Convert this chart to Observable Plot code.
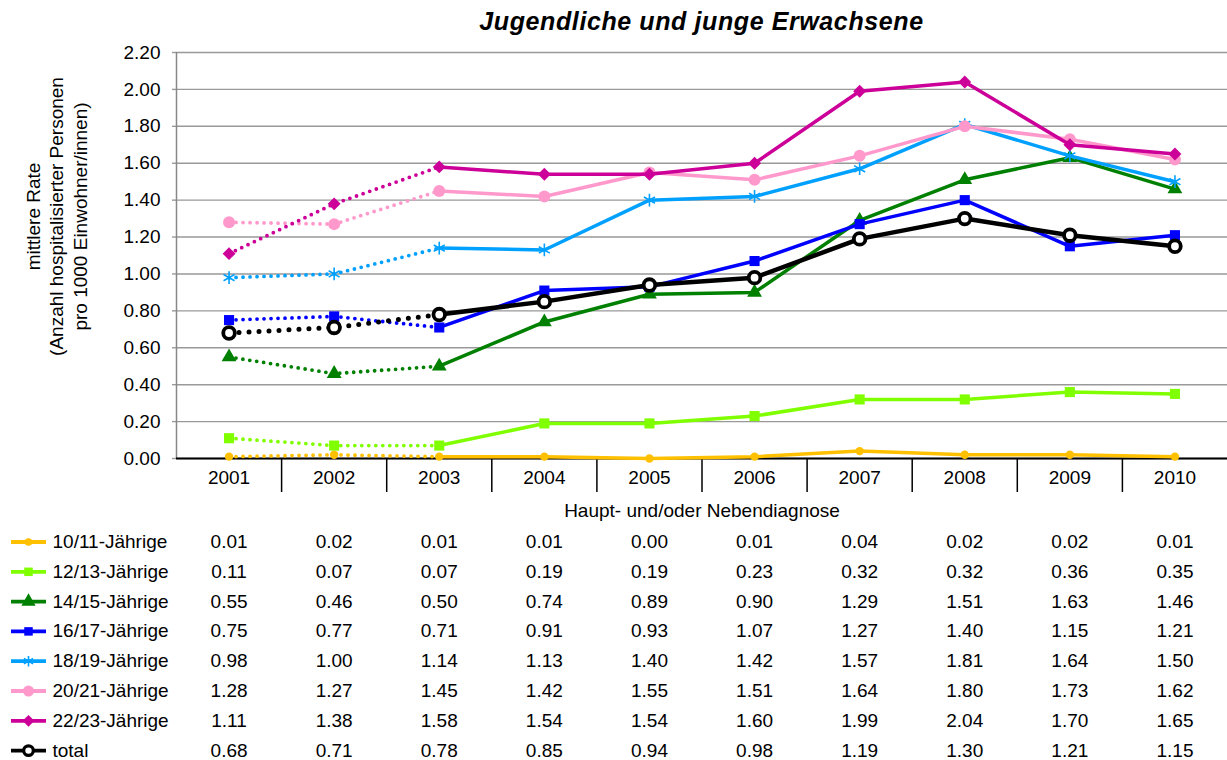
<!DOCTYPE html>
<html>
<head>
<meta charset="utf-8">
<script src="https://cdn.jsdelivr.net/npm/d3@7"></script>
<script src="https://cdn.jsdelivr.net/npm/@observablehq/plot@0.6"></script>
<style>
  html, body { margin: 0; padding: 0; background: #fff; }
  #wrap { position: relative; width: 1227px; height: 760px; overflow: hidden; font-family: "Liberation Sans", Arial, sans-serif; }
  #title { position: absolute; left: 176px; top: 0; width: 1051px; height: 40px; line-height: 42px; text-align: center;
           font-weight: bold; font-style: italic; font-size: 25px; letter-spacing: 0.6px; color: #000; }
  #chart { position: absolute; left: 0; top: 40px; }
</style>
</head>
<body>
<div id="wrap">
  <div id="title">Jugendliche und junge Erwachsene</div>
  <div id="chart"></div>
</div>
<script>
// ---- data ----
const years = [2001, 2002, 2003, 2004, 2005, 2006, 2007, 2008, 2009, 2010];
const seriesNames = ["10/11-Jährige", "12/13-Jährige", "14/15-Jährige", "16/17-Jährige",
                     "18/19-Jährige", "20/21-Jährige", "22/23-Jährige", "total"];
const v1011 = [0.01, 0.02, 0.01, 0.01, 0.00, 0.01, 0.04, 0.02, 0.02, 0.01];
const v1213 = [0.11, 0.07, 0.07, 0.19, 0.19, 0.23, 0.32, 0.32, 0.36, 0.35];
const v1415 = [0.55, 0.46, 0.50, 0.74, 0.89, 0.90, 1.29, 1.51, 1.63, 1.46];
const v1617 = [0.75, 0.77, 0.71, 0.91, 0.93, 1.07, 1.27, 1.40, 1.15, 1.21];
const v1819 = [0.98, 1.00, 1.14, 1.13, 1.40, 1.42, 1.57, 1.81, 1.64, 1.50];
const v2021 = [1.28, 1.27, 1.45, 1.42, 1.55, 1.51, 1.64, 1.80, 1.73, 1.62];
const v2223 = [1.11, 1.38, 1.58, 1.54, 1.54, 1.60, 1.99, 2.04, 1.70, 1.65];
const vTotal = [0.68, 0.71, 0.78, 0.85, 0.94, 0.98, 1.19, 1.30, 1.21, 1.15];
const yTicks = [0, 0.2, 0.4, 0.6, 0.8, 1.0, 1.2, 1.4, 1.6, 1.8, 2.0, 2.2];
const dottedUntil = 2003;
const yAxisLabel = "mittlere Rate\n(Anzahl hospitalisierter Personen\npro 1000 Einwohner/innen)";
const xAxisLabel = "Haupt- und/oder Nebendiagnose";

// ---- styles ----
const seriesValues = [v1011, v1213, v1415, v1617, v1819, v2021, v2223, vTotal];
const styles = [
  {color: "#FFC000", symbol: "circle",   r: 4.2, lr: 3.8, width: 3.5},
  {color: "#80FF00", symbol: "square",   r: 5.7, lr: 4.8, width: 3.5},
  {color: "#008000", symbol: "triangle", r: 5.5, lr: 5.3, width: 3.5},
  {color: "#0000FF", symbol: "square",   r: 5.7, lr: 4.8, width: 3.5},
  {color: "#00A0FF", symbol: "asterisk", r: 6,   lr: 5,   width: 3.5, hollow: true},
  {color: "#FF99CC", symbol: "circle",   r: 6,   lr: 5.5, width: 3.5},
  {color: "#CC0099", symbol: "diamond2", r: 5.8, lr: 5.3, width: 3.5},
  {color: "#000000", symbol: "circle",   r: 5.8, lr: 4.8, width: 4.5, open: true}
];

const rowsBySeries = seriesNames.map((name, i) =>
  years.map((year, j) => ({series: name, year, value: seriesValues[i][j]})));

const boundaries = years.slice(1).map(y => y - 0.5);
const hline = {draw(context) { context.moveTo(-17.5, 0); context.lineTo(17.5, 0); }};
const rowDy = i => 83.5 + i * 29.8;

const marks = [
  Plot.gridY(yTicks, {stroke: "#999", strokeOpacity: 1, strokeWidth: 1.4}),
  Plot.axisY(yTicks, {tickSize: 4, tickPadding: 12, tickFormat: d => d.toFixed(2), label: null, stroke: "#999", strokeWidth: 1.4}),
  Plot.ruleX([2000.5], {stroke: "#888", strokeWidth: 1.5}),
  Plot.axisX(years, {tickSize: 0, tickPadding: 12, tickFormat: d => String(d), label: null}),
  Plot.axisX(boundaries, {tickSize: 34, tickFormat: () => "", label: null, stroke: "#000", strokeWidth: 1.5}),
  Plot.ruleY([0], {stroke: "#000", strokeWidth: 2}),
  Plot.text([yAxisLabel], {frameAnchor: "left", textAnchor: "middle", lineAnchor: "middle", dx: -120.5, dy: -39,
    rotate: -90, lineHeight: 1.22, text: d => d}),
  Plot.text([xAxisLabel], {frameAnchor: "bottom", lineAnchor: "middle", dy: 52, text: d => d})
];

rowsBySeries.forEach((rows, i) => {
  const s = styles[i];
  const isTotal = s.open;
  marks.push(Plot.line(rows.filter(d => d.year <= dottedUntil), {
    x: "year", y: "value", stroke: s.color, strokeWidth: isTotal ? 5 : 3.8,
    strokeDasharray: isTotal ? "0 10" : "0 7", strokeLinecap: "round"
  }));
  marks.push(Plot.line(rows.filter(d => d.year >= dottedUntil), {
    x: "year", y: "value", stroke: s.color, strokeWidth: s.width
  }));
  const dotOpts = s.open
    ? {fill: "#fff", stroke: s.color, strokeWidth: 3.8}
    : s.hollow ? {fill: "none", stroke: s.color, strokeWidth: 1.6}
    : {fill: s.color, stroke: "none"};
  marks.push(Plot.dot(rows, {x: "year", y: "value", symbol: s.symbol, r: s.r, ...dotOpts}));
  // table row
  marks.push(Plot.text(rows, {x: "year", text: d => d.value.toFixed(2), frameAnchor: "bottom", lineAnchor: "middle", dy: rowDy(i)}));
  // legend key
  marks.push(Plot.dot([seriesNames[i]], {frameAnchor: "bottom-left", dx: -148, dy: rowDy(i), symbol: hline,
    fill: "none", stroke: s.color, strokeWidth: 3.8}));
  marks.push(Plot.dot([seriesNames[i]], {frameAnchor: "bottom-left", dx: -148, dy: rowDy(i), symbol: s.symbol,
    r: s.lr, ...(s.open ? {fill: "#fff", stroke: s.color, strokeWidth: 3.2} : dotOpts)}));
  marks.push(Plot.text([seriesNames[i]], {frameAnchor: "bottom-left", dx: -124, dy: rowDy(i), textAnchor: "start",
    lineAnchor: "middle", text: d => d}));
});

const chart = Plot.plot({
  width: 1227,
  height: 720,
  marginTop: 12,
  marginBottom: 302,
  marginLeft: 176,
  marginRight: 0,
  x: {type: "linear", domain: [2000.5, 2010.5]},
  y: {domain: [0, 2.2]},
  style: {fontFamily: "'Liberation Sans', Arial, sans-serif", fontSize: "19px", color: "#000", background: "#fff", overflow: "visible"},
  marks
});
document.getElementById("chart").appendChild(chart);
</script>
</body>
</html>
